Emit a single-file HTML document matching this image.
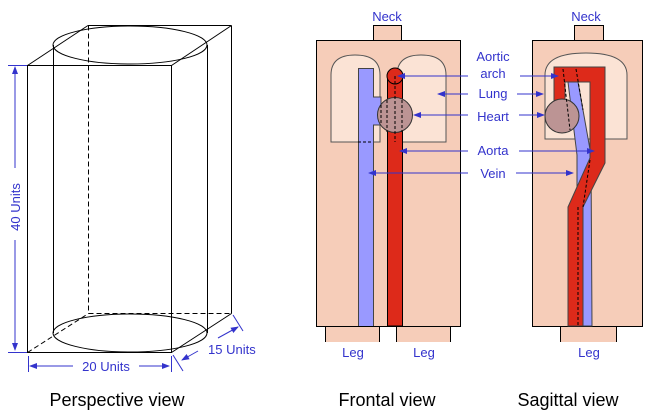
<!DOCTYPE html>
<html><head><style>
html,body{margin:0;padding:0;background:#fff;width:653px;height:416px;overflow:hidden}
text{font-family:"Liberation Sans",sans-serif}
</style></head><body>
<svg width="653" height="416" viewBox="0 0 653 416" xmlns="http://www.w3.org/2000/svg">
<defs>
<marker id="a" markerWidth="8" markerHeight="8" refX="7" refY="3" orient="auto" markerUnits="userSpaceOnUse"><path d="M0,0 L8,3 L0,6z" fill="#3333cc"/></marker>
</defs>
<g fill="none" stroke="#000" stroke-width="1">
<rect x="27.5" y="65.5" width="144" height="287"/>
<line x1="27.5" y1="65.5" x2="88" y2="25.5"/>
<line x1="88" y1="25.5" x2="231.5" y2="25.5"/>
<line x1="171.5" y1="65.5" x2="231.5" y2="25.5"/>
<line x1="231.5" y1="25.5" x2="231.5" y2="313.5"/>
<line x1="171.5" y1="352.5" x2="231.5" y2="313.5"/>
<g stroke-dasharray="5,3">
<line x1="88.5" y1="25.5" x2="88.5" y2="313.5"/>
<line x1="88.5" y1="313.5" x2="231.5" y2="313.5"/>
<line x1="27.5" y1="352.5" x2="88.5" y2="313.5"/>
</g>
<ellipse cx="130" cy="45" rx="77" ry="19"/>
<ellipse cx="130" cy="333" rx="77" ry="19"/>
<line x1="53.5" y1="45" x2="53.5" y2="333"/>
<line x1="207.5" y1="45" x2="207.5" y2="333"/>
</g>
<g stroke="#3333cc" fill="none">
<line x1="8" y1="65.5" x2="27" y2="65.5"/>
<line x1="8" y1="352.5" x2="27" y2="352.5"/>
<line x1="15" y1="168" x2="15" y2="67" marker-end="url(#a)"/>
<line x1="15" y1="240" x2="15" y2="350" marker-end="url(#a)"/>
<line x1="28.5" y1="356" x2="28.5" y2="372"/>
<line x1="171.5" y1="356" x2="171.5" y2="372"/>
<line x1="73" y1="366" x2="30" y2="366" marker-end="url(#a)"/>
<line x1="139" y1="366" x2="169" y2="366" marker-end="url(#a)"/>
<line x1="173" y1="355" x2="183" y2="371"/>
<line x1="233" y1="315" x2="243" y2="331"/>
<line x1="198" y1="351" x2="182" y2="360" marker-end="url(#a)"/>
<line x1="218" y1="338" x2="238" y2="327" marker-end="url(#a)"/>
</g>
<g fill="#3333cc" font-size="13">
<text x="0" y="0" transform="translate(20,207) rotate(-90)" text-anchor="middle">40 Units</text>
<text x="106" y="371" text-anchor="middle">20 Units</text>
<text x="208" y="354">15 Units</text>
</g>
<g font-size="18" fill="#000" text-anchor="middle">
<text x="117" y="406">Perspective view</text>
<text x="387" y="406">Frontal view</text>
<text x="568" y="406">Sagittal view</text>
</g>
<g stroke="#000" stroke-width="1">
<rect x="373.5" y="25.5" width="28" height="15" fill="#f6cdb9"/>
<path d="M325.5,342 V326.5 H379.5 V342 M396.5,342 V326.5 H450.5 V342" fill="#f6cdb9"/>
<rect x="316.5" y="40.5" width="144" height="286" fill="#f6cdb9"/>
</g>
<g stroke="#555" fill="#fbe3d5">
<path d="M331,142 V75 Q331,55 355,55 Q380,55 380,75 V142 Z"/>
<path d="M397,142 V75 Q397,55 421,55 Q446,55 446,75 V142 Z"/>
</g>
<g stroke="#444" fill="#9999ff">
<path d="M358.5,326 V68.5 H373.5 V97 H381 V125 H373.5 V326"/>
</g>
<line x1="358" y1="142" x2="373" y2="142" stroke="#000" stroke-dasharray="3,2"/>
<rect x="387.5" y="76" width="15" height="250" fill="#dd2a1a" stroke="#000"/>
<circle cx="395" cy="76" r="8" fill="#dd2a1a" stroke="#000"/>
<circle cx="395" cy="115" r="17.5" fill="#bc9494" stroke="#333"/>
<g stroke="#000" stroke-dasharray="3,2" fill="none">
<line x1="395" y1="76" x2="395" y2="142"/>
<line x1="387" y1="100" x2="387" y2="132"/>
<line x1="402" y1="100" x2="402" y2="132"/>
<line x1="381" y1="105" x2="381" y2="125"/>
</g>
<g stroke="#000" stroke-width="1" fill="#f6cdb9">
<rect x="574.5" y="25.5" width="29" height="15"/>
<path d="M560.5,342 V326.5 H616.5 V342"/>
<rect x="532.5" y="40.5" width="110" height="286"/>
</g>
<path d="M545,139 V75 Q545,53 586,53 Q627,53 627,75 V139 Z" fill="#fbe3d5" stroke="#555"/>
<path d="M568,82 H578 L591,155 L592,326 H577 L577,155 Z" fill="#9999ff" stroke="#444"/>
<path d="M554,67 H605 V163 L583,207 V326 H568 V207 L590,158 V82 H565 V102 H554 Z" fill="#dd2a1a" stroke="#444"/>
<circle cx="562" cy="116" r="17" fill="#bc9494" stroke="#333"/>
<g stroke="#000" stroke-dasharray="3,2" fill="none">
<line x1="563" y1="69" x2="570" y2="130"/>
<line x1="576" y1="69" x2="583" y2="110"/>
<line x1="578" y1="207" x2="578" y2="326"/>
<line x1="590" y1="160" x2="583" y2="207"/>
</g>
<g fill="#3333cc" font-size="13" text-anchor="middle">
<text x="387" y="21">Neck</text>
<text x="586" y="21">Neck</text>
<text x="493" y="61">Aortic</text>
<text x="493" y="78">arch</text>
<text x="493" y="98">Lung</text>
<text x="493" y="121">Heart</text>
<text x="493" y="155">Aorta</text>
<text x="493" y="178">Vein</text>
<text x="353" y="357">Leg</text>
<text x="424" y="357">Leg</text>
<text x="589" y="357">Leg</text>
</g>
<g stroke="#3333cc" fill="none">
<line x1="468" y1="76" x2="398" y2="76" marker-end="url(#a)"/>
<line x1="468" y1="94" x2="438" y2="94" marker-end="url(#a)"/>
<line x1="468" y1="115" x2="414" y2="115" marker-end="url(#a)"/>
<line x1="468" y1="151" x2="400" y2="151" marker-end="url(#a)"/>
<line x1="468" y1="173" x2="369" y2="173" marker-end="url(#a)"/>
<line x1="520" y1="76" x2="558" y2="76" marker-end="url(#a)"/>
<line x1="517" y1="94" x2="543" y2="94" marker-end="url(#a)"/>
<line x1="519" y1="115" x2="544" y2="115" marker-end="url(#a)"/>
<line x1="519" y1="151" x2="594" y2="151" marker-end="url(#a)"/>
<line x1="516" y1="173" x2="573" y2="173" marker-end="url(#a)"/>
</g>
</svg>
</body></html>
